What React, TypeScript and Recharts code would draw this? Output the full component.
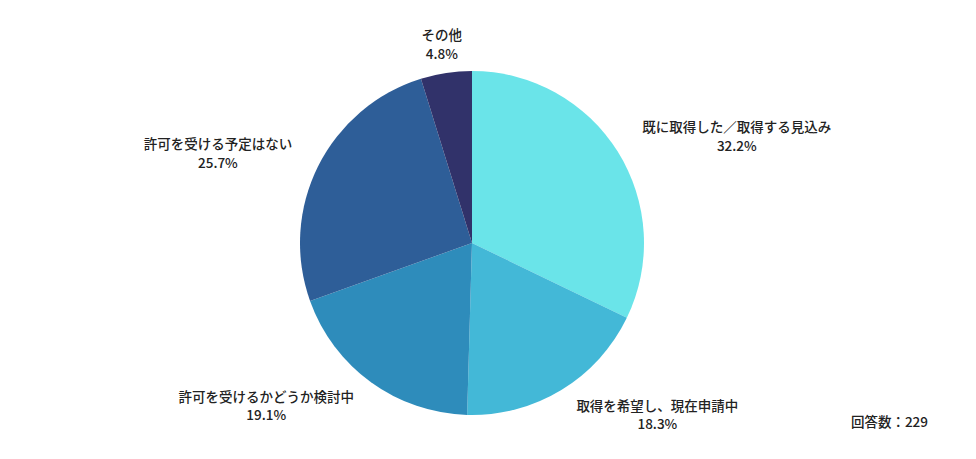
import React from 'react';
import { PieChart, Pie, Cell } from 'recharts';

const categories = [
    '既に取得した／取得する見込み',
    '取得を希望し、現在申請中',
    '許可を受けるかどうか検討中',
    '許可を受ける予定はない',
    'その他'
];
const shares = [32.2, 18.3, 19.1, 25.7, 4.8];
const totalAnswers = 229;

const COLORS = ['#6AE4E9', '#43B8D7', '#2E8CBB', '#2E5E98', '#31326A'];
const FONT = '"Noto Sans CJK JP", "Noto Sans", sans-serif';
const FONT_SIZE = 13.5;

const data = categories.map((name, i) => ({ name, value: shares[i] }));

const RADIAN = Math.PI / 180;

const renderLabel = (props: any) => {
    const { cx, cy, midAngle, outerRadius, name, value } = props;
    const r = outerRadius + 29;
    const x = cx + r * Math.cos(-midAngle * RADIAN);
    const y = cy + r * Math.sin(-midAngle * RADIAN);
    const cos = Math.cos(-midAngle * RADIAN);

    // rough width of the first line so the two lines stay centred in one block
    const w = String(name).length * FONT_SIZE;
    let centerX = x;
    if (cos > 0.2) centerX = x + w / 2;
    else if (cos < -0.2) centerX = x - w / 2;

    const textProps = {
        textAnchor: 'middle' as const,
        fill: '#222',
        fontSize: FONT_SIZE,
        fontWeight: 500,
        fontFamily: FONT
    };

    return (
        <g>
            <text x={centerX} y={y - 4} {...textProps}>{name}</text>
            <text x={centerX} y={y + 14.5} {...textProps}>{`${value.toFixed(1)}%`}</text>
        </g>
    );
};

const App: React.FC = () => {
    return (
        <div style={{ position: 'absolute', left: 0, top: 0, width: 976, height: 459, background: '#fff' }}>
            <PieChart width={976} height={459} margin={{ top: 0, right: 0, bottom: 0, left: 0 }}>
                <Pie
                    data={data}
                    dataKey="value"
                    nameKey="name"
                    cx={472}
                    cy={243}
                    outerRadius={172}
                    startAngle={90}
                    endAngle={-270}
                    stroke="none"
                    label={renderLabel}
                    labelLine={false}
                    isAnimationActive={false}
                >
                    {data.map((_, index) => (
                        <Cell key={`cell-${index}`} fill={COLORS[index % COLORS.length]} />
                    ))}
                </Pie>
                <text
                    x={928}
                    y={427}
                    textAnchor="end"
                    fill="#222"
                    fontSize={FONT_SIZE}
                    fontWeight={500}
                    fontFamily={FONT}
                >
                    {`回答数：${totalAnswers}`}
                </text>
            </PieChart>
        </div>
    );
};

export default App;
